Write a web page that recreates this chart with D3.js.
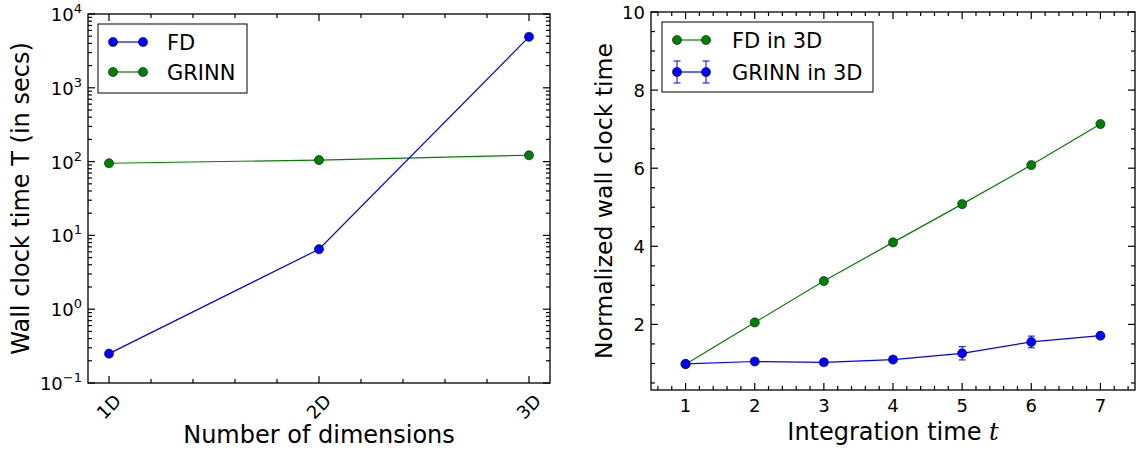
<!doctype html>
<html>
<head>
<meta charset="utf-8">
<style>
  body { margin: 0; background: #fff; }
  svg { display: block; }
  text { font-family: "DejaVu Sans", sans-serif; fill: #000; }
</style>
<script src="https://cdnjs.cloudflare.com/ajax/libs/d3/7.8.5/d3.min.js"></script>
</head>
<body>
<svg id="chart" width="1140" height="452"></svg>
<script>
// left panel: runtime per dimension
var dims = ["1D", "2D", "3D"];
var fdTimes = [0.25, 6.5, 4900];
var grinnTimes = [95, 105, 122];
var logTicks = [-1, 0, 1, 2, 3, 4];

// right panel: normalized wall clock vs integration time
var steps = [1, 2, 3, 4, 5, 6, 7];
var fdNorm = [0.98, 2.05, 3.11, 4.10, 5.08, 6.08, 7.13];
var grinnNorm = [0.99, 1.05, 1.03, 1.10, 1.26, 1.55, 1.71];
var grinnErr = [0.05, 0.08, 0.07, 0.06, 0.17, 0.15, 0.06];
var normTicks = [2, 4, 6, 8, 10];

var BLUE = "#0000ff", GREEN = "#008000";
var svg = d3.select("#chart");
var MAJ = 7, MIN = 4;

function frame(g, x0, x1, y0, y1) {
  g.append("rect").attr("x", x0).attr("y", y0).attr("width", x1 - x0).attr("height", y1 - y0)
    .attr("fill", "none").attr("stroke", "#000").attr("stroke-width", 1.3);
}
function xTicks(g, xs, y0, y1, len) {
  xs.forEach(function (x) {
    g.append("line").attr("x1", x).attr("x2", x).attr("y1", y1).attr("y2", y1 - len).attr("stroke", "#000").attr("stroke-width", 1.2);
    g.append("line").attr("x1", x).attr("x2", x).attr("y1", y0).attr("y2", y0 + len).attr("stroke", "#000").attr("stroke-width", 1.2);
  });
}
function yTicks(g, ys, x0, x1, len) {
  ys.forEach(function (y) {
    g.append("line").attr("x1", x0).attr("x2", x0 + len).attr("y1", y).attr("y2", y).attr("stroke", "#000").attr("stroke-width", 1.2);
    g.append("line").attr("x1", x1).attr("x2", x1 - len).attr("y1", y).attr("y2", y).attr("stroke", "#000").attr("stroke-width", 1.2);
  });
}
function marker(g, x, y, color) {
  g.append("circle").attr("cx", x).attr("cy", y).attr("r", 4.6).attr("fill", color)
    .attr("stroke", "#000").attr("stroke-width", 0.5);
}

// ---------- left panel ----------
(function () {
  var L = 88, R = 550, T = 14, B = 383;
  var x = d3.scaleLinear().domain([0.9, 3.1]).range([L, R]);
  var y = d3.scaleLog().domain([0.1, 10000]).range([B, T]);
  var g = svg.append("g");

  var minorX = d3.range(1, 16).map(function (i) { return 0.8 + i * 0.2; })
    .filter(function (v) { return v > 0.9 && v < 3.1 && Math.abs(v - Math.round(v)) > 1e-6; });
  xTicks(g, minorX.map(x), T, B, MIN);
  xTicks(g, [1, 2, 3].map(x), T, B, MAJ);

  var minorY = [];
  for (var e = -1; e < 4; e++) for (var k = 2; k < 10; k++) minorY.push(k * Math.pow(10, e));
  yTicks(g, minorY.map(y), L, R, MIN);
  yTicks(g, logTicks.map(function (p) { return y(Math.pow(10, p)); }), L, R, MAJ);

  var line = d3.line().x(function (d, i) { return x(i + 1); }).y(function (d) { return y(d); });
  g.append("path").datum(grinnTimes).attr("d", line).attr("fill", "none").attr("stroke", GREEN).attr("stroke-width", 1.2);
  g.append("path").datum(fdTimes).attr("d", line).attr("fill", "none").attr("stroke", BLUE).attr("stroke-width", 1.2);
  grinnTimes.forEach(function (d, i) { marker(g, x(i + 1), y(d), GREEN); });
  fdTimes.forEach(function (d, i) { marker(g, x(i + 1), y(d), BLUE); });

  frame(g, L, R, T, B);

  logTicks.forEach(function (p) {
    var t = g.append("text").attr("x", L - 6).attr("y", y(Math.pow(10, p)) + 7)
      .attr("text-anchor", "end").attr("font-size", 18);
    t.append("tspan").text("10");
    t.append("tspan").attr("dy", -8).attr("font-size", 13).text(p < 0 ? "\u2212" + (-p) : String(p));
  });
  dims.forEach(function (d, i) {
    var cx = x(i + 1), cy = B + 24;
    g.append("text").attr("x", cx).attr("y", cy + 6).attr("text-anchor", "middle").attr("font-size", 18)
      .attr("transform", "rotate(-45," + cx + "," + cy + ")").text(d);
  });
  g.append("text").attr("x", (L + R) / 2).attr("y", 443).attr("text-anchor", "middle").attr("font-size", 24)
    .text("Number of dimensions");
  g.append("text").attr("transform", "translate(29," + ((T + B) / 2) + ") rotate(-90)")
    .attr("text-anchor", "middle").attr("font-size", 24).text("Wall clock time T (in secs)");

  // legend
  var lg = g.append("g");
  lg.append("rect").attr("x", 98).attr("y", 24).attr("width", 149).attr("height", 69)
    .attr("fill", "#fff").attr("stroke", "#000").attr("stroke-width", 1);
  [["FD", BLUE, 42], ["GRINN", GREEN, 72]].forEach(function (e) {
    lg.append("line").attr("x1", 113).attr("x2", 143).attr("y1", e[2]).attr("y2", e[2]).attr("stroke", e[1]).attr("stroke-width", 1.2);
    marker(lg, 113, e[2], e[1]);
    marker(lg, 143, e[2], e[1]);
    lg.append("text").attr("x", 167).attr("y", e[2] + 7.5).attr("font-size", 21).text(e[0]);
  });
})();

// ---------- right panel ----------
(function () {
  var L = 651, R = 1135, T = 12, B = 390;
  var x = d3.scaleLinear().domain([0.5, 7.5]).range([L, R]);
  var y = d3.scaleLinear().domain([0.32, 10]).range([B, T]);
  var g = svg.append("g");

  var minorX = d3.range(0, 35).map(function (i) { return 0.6 + i * 0.2; })
    .filter(function (v) { return v < 7.5 && Math.abs(v - Math.round(v)) > 1e-6; });
  xTicks(g, minorX.map(x), T, B, MIN);
  xTicks(g, steps.map(x), T, B, MAJ);
  var minorY = d3.range(1, 20).map(function (i) { return i * 0.5; })
    .filter(function (v) { return v > 0.32 && v % 2 !== 0; });
  yTicks(g, minorY.map(y), L, R, MIN);
  yTicks(g, normTicks.map(y), L, R, MAJ);

  var line = d3.line().x(function (d, i) { return x(steps[i]); }).y(function (d) { return y(d); });
  g.append("path").datum(fdNorm).attr("d", line).attr("fill", "none").attr("stroke", GREEN).attr("stroke-width", 1.2);
  fdNorm.forEach(function (d, i) { marker(g, x(steps[i]), y(d), GREEN); });

  g.append("path").datum(grinnNorm).attr("d", line).attr("fill", "none").attr("stroke", BLUE).attr("stroke-width", 1.2);
  grinnNorm.forEach(function (d, i) {
    var cx = x(steps[i]), lo = y(d - grinnErr[i]), hi = y(d + grinnErr[i]);
    g.append("line").attr("x1", cx).attr("x2", cx).attr("y1", lo).attr("y2", hi).attr("stroke", BLUE).attr("stroke-width", 1);
    [lo, hi].forEach(function (yy) {
      g.append("line").attr("x1", cx - 3.5).attr("x2", cx + 3.5).attr("y1", yy).attr("y2", yy).attr("stroke", BLUE).attr("stroke-width", 1);
    });
  });
  grinnNorm.forEach(function (d, i) { marker(g, x(steps[i]), y(d), BLUE); });

  frame(g, L, R, T, B);

  normTicks.forEach(function (v) {
    g.append("text").attr("x", L - 6).attr("y", y(v) + 7).attr("text-anchor", "end").attr("font-size", 18).text(v);
  });
  steps.forEach(function (v) {
    g.append("text").attr("x", x(v)).attr("y", B + 22).attr("text-anchor", "middle").attr("font-size", 18).text(v);
  });
  var xl = g.append("text").attr("x", (L + R) / 2).attr("y", 440).attr("text-anchor", "middle").attr("font-size", 24);
  xl.append("tspan").text("Integration time ");
  xl.append("tspan").attr("font-family", "DejaVu Serif").attr("font-style", "italic").text("t");
  g.append("text").attr("transform", "translate(612," + ((T + B) / 2) + ") rotate(-90)")
    .attr("text-anchor", "middle").attr("font-size", 23.5).text("Normalized wall clock time");

  // legend
  var lg = g.append("g");
  lg.append("rect").attr("x", 662).attr("y", 22).attr("width", 211).attr("height", 70)
    .attr("fill", "#fff").attr("stroke", "#000").attr("stroke-width", 1);
  lg.append("line").attr("x1", 677).attr("x2", 706).attr("y1", 40).attr("y2", 40).attr("stroke", GREEN).attr("stroke-width", 1.2);
  marker(lg, 677, 40, GREEN); marker(lg, 706, 40, GREEN);
  lg.append("text").attr("x", 732).attr("y", 47.5).attr("font-size", 21).text("FD in 3D");
  lg.append("line").attr("x1", 677).attr("x2", 706).attr("y1", 72).attr("y2", 72).attr("stroke", BLUE).attr("stroke-width", 1.2);
  [677, 706].forEach(function (cx) {
    lg.append("line").attr("x1", cx).attr("x2", cx).attr("y1", 61).attr("y2", 83).attr("stroke", BLUE).attr("stroke-width", 1);
    [61, 83].forEach(function (yy) {
      lg.append("line").attr("x1", cx - 3.5).attr("x2", cx + 3.5).attr("y1", yy).attr("y2", yy).attr("stroke", BLUE).attr("stroke-width", 1);
    });
    marker(lg, cx, 72, BLUE);
  });
  lg.append("text").attr("x", 732).attr("y", 79.5).attr("font-size", 21).text("GRINN in 3D");
})();
</script>
</body>
</html>
